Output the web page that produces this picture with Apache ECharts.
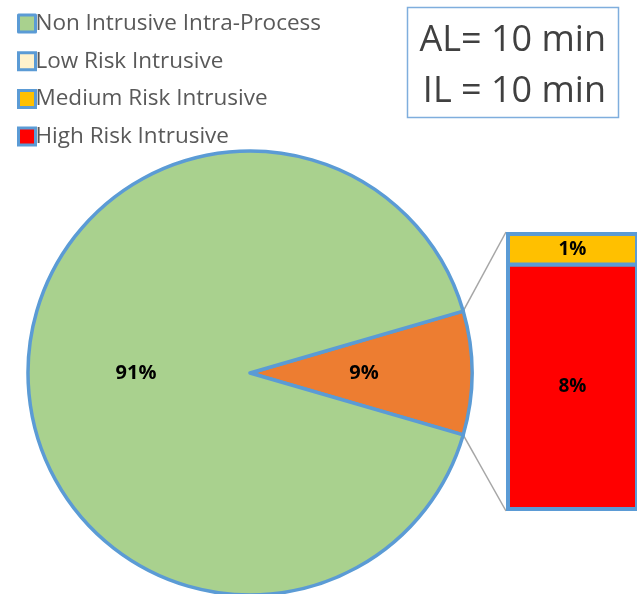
<!DOCTYPE html>
<html>
<head>
<meta charset="utf-8">
<script src="https://cdn.jsdelivr.net/npm/echarts@6/dist/echarts.min.js"></script>
<style>
  html, body { margin: 0; padding: 0; background: #fff; }
  #chart { width: 637px; height: 594px; }
</style>
</head>
<body>
<div id="chart"></div>
<script>
// Pie shares: main process vs. intrusive (split out into the bar)
const pieNames = ['Intrusive', 'Non Intrusive Intra-Process'];
const pieValues = [9, 91];
const pieColors = ['#ED7D31', '#A9D18E'];

// Breakdown of the intrusive share, bottom to top
const barNames = ['High Risk Intrusive', 'Medium Risk Intrusive', 'Low Risk Intrusive'];
const barValues = [8, 1, null];
const barColors = ['#FF0000', '#FFC000', '#FFF2CC'];

const legendNames = ['Non Intrusive Intra-Process', 'Low Risk Intrusive', 'Medium Risk Intrusive', 'High Risk Intrusive'];
const noteLines = ['AL= 10 min', 'IL = 10 min'];

const FONT = '"Open Sans", "Liberation Sans", sans-serif';
const EDGE = '#5B9BD5';

// layout
const pieCenter = [250, 373];
const pieRadius = 222;
const barBox = { left: 508, top: 234, width: 138, height: 275 };

const intrusiveTotal = pieValues[0];
const pieTotal = pieValues.reduce((a, b) => a + b, 0);
const halfSweep = intrusiveTotal / pieTotal * 180;   // degrees, slice centred on 0°

const chart = echarts.init(document.getElementById('chart'), null, { renderer: 'canvas' });

// stacked segments drawn as custom rects so neighbouring borders share one edge
let running = 0;
const barSeries = barNames.map((n, i) => {
  const v = barValues[i];
  const data = v == null ? [] : [[0, running, running + v, v]];
  if (v != null) running += v;
  return {
    name: n,
    type: 'custom',
    coordinateSystem: 'cartesian2d',
    itemStyle: { color: barColors[i] },
    encode: { x: 0, y: [1, 2] },
    data: data,
    silent: true,
    renderItem: (params, api) => {
      const p0 = api.coord([api.value(0), api.value(1)]);
      const p1 = api.coord([api.value(0), api.value(2)]);
      const w = api.size([1, 0])[0];
      return {
        type: 'rect',
        shape: { x: p0[0] - w / 2, y: p1[1], width: w, height: p0[1] - p1[1] },
        style: { fill: barColors[i], stroke: EDGE, lineWidth: 4 },
        textContent: {
          style: {
            text: api.value(3) + '%',
            fill: '#000',
            font: 'bold 19px ' + FONT
          }
        },
        textConfig: { position: 'inside' }
      };
    }
  };
});

// connector lines from the slice edges to the bar corners
const a = halfSweep * Math.PI / 180;
const edgeTop = [pieCenter[0] + pieRadius * Math.cos(a), pieCenter[1] - pieRadius * Math.sin(a)];
const edgeBot = [pieCenter[0] + pieRadius * Math.cos(a), pieCenter[1] + pieRadius * Math.sin(a)];

chart.setOption({
  animation: false,
  backgroundColor: '#fff',
  legend: {
    data: legendNames.map((n, i) => ({
      name: n,
      itemStyle: { color: i === 0 ? pieColors[1] : barColors[barNames.indexOf(n)] }
    })),
    orient: 'vertical',
    left: 12,
    top: 7,
    itemWidth: 17,
    itemHeight: 17,
    itemGap: 14.7,
    selectedMode: false,
    icon: 'rect',
    itemStyle: { borderColor: EDGE, borderWidth: 3 },
    textStyle: { fontSize: 22.5, color: '#595959', fontFamily: FONT, padding: [0, 0, 0, -5] }
  },
  grid: { left: barBox.left, top: barBox.top, width: barBox.width, height: barBox.height },
  xAxis: { type: 'category', data: ['split'], show: false },
  yAxis: { type: 'value', min: 0, max: intrusiveTotal, show: false },
  series: [
    {
      name: 'share',
      type: 'pie',
      center: pieCenter,
      radius: pieRadius,
      startAngle: halfSweep,
      clockwise: true,
      data: pieNames.map((n, i) => ({ name: n, value: pieValues[i], itemStyle: { color: pieColors[i] } })),
      itemStyle: { borderColor: EDGE, borderWidth: 3.5 },
      label: {
        show: true,
        position: 'inside',
        formatter: '{d}%',
        color: '#000',
        fontWeight: 'bold',
        fontSize: 20,
        fontFamily: FONT
      },
      labelLine: { show: false },
      emphasis: { disabled: true },
      silent: true
    },
    ...barSeries
  ],
  graphic: [
    {
      type: 'line', z: 0,
      shape: { x1: edgeTop[0], y1: edgeTop[1], x2: barBox.left - 2, y2: barBox.top - 2 },
      style: { stroke: '#A6A6A6', lineWidth: 1.5 }
    },
    {
      type: 'line', z: 0,
      shape: { x1: edgeBot[0], y1: edgeBot[1], x2: barBox.left - 2, y2: barBox.top + barBox.height + 2 },
      style: { stroke: '#A6A6A6', lineWidth: 1.5 }
    },
    {
      type: 'rect',
      shape: { x: 407.5, y: 7.5, width: 211, height: 110 },
      style: { fill: '#fff', stroke: '#7FAEDD', lineWidth: 1.5 }
    },
    {
      type: 'text',
      style: {
        x: 606, y: 66, text: noteLines.join('\n'),
        align: 'right', verticalAlign: 'middle',
        font: '36px ' + FONT, fill: '#404040', lineHeight: 51
      }
    }
  ]
});
</script>
</body>
</html>
